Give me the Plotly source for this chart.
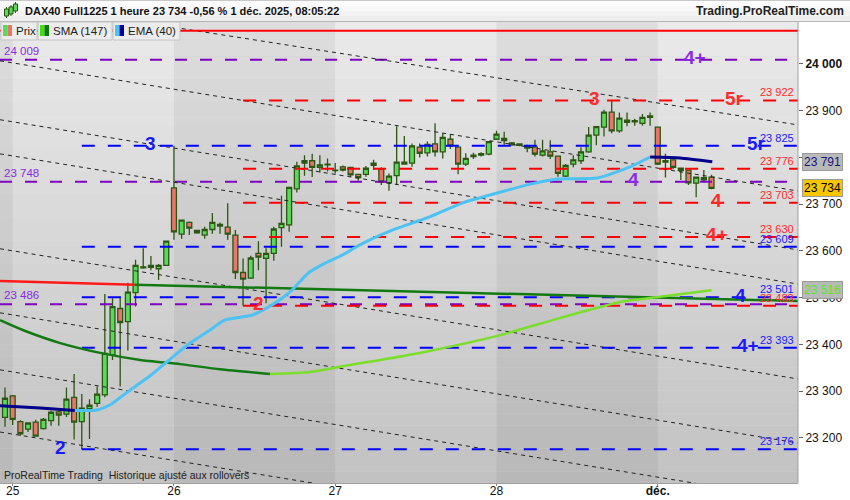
import plotly.graph_objects as go

# ---------------- DATA ----------------
day_ticks = [1, 22, 43, 64, 85]
day_labels = ["25", "26", "27", "28", "<b>déc.</b>"]

opens = [23244, 23290, 23235, 23219, 23234, 23220, 23237, 23256, 23251, 23287,
         23235, 23263, 23274, 23292, 23378, 23477, 23449, 23511, 23564, 23569,
         23562, 23569, 23735, 23636, 23661, 23644, 23634, 23646, 23657, 23651,
         23634, 23554, 23542, 23595, 23584, 23595, 23650, 23656, 23733, 23788,
         23793, 23779, 23784, 23773, 23780, 23779, 23764, 23764, 23783, 23775,
         23746, 23761, 23790, 23788, 23822, 23810, 23829, 23812, 23839, 23822,
         23786, 23802, 23805, 23807, 23839, 23841, 23827, 23826, 23820, 23822,
         23805, 23812, 23803, 23760, 23786, 23793, 23812, 23848, 23865, 23897,
         23857, 23880, 23876, 23873, 23886, 23865, 23790, 23795, 23772, 23773,
         23745, 23757, 23758]
highs = [23308, 23292, 23238, 23232, 23239, 23243, 23258, 23264, 23308, 23337,
         23294, 23283, 23310, 23508, 23499, 23502, 23532, 23581, 23606, 23589,
         23572, 23621, 23825, 23666, 23663, 23645, 23652, 23681, 23661, 23702,
         23645, 23584, 23590, 23621, 23606, 23652, 23718, 23737, 23791, 23805,
         23808, 23805, 23798, 23788, 23783, 23780, 23765, 23782, 23795, 23779,
         23766, 23867, 23846, 23830, 23830, 23834, 23873, 23852, 23850, 23823,
         23809, 23810, 23811, 23835, 23857, 23855, 23833, 23830, 23827, 23838,
         23838, 23837, 23804, 23786, 23805, 23822, 23865, 23866, 23902, 23922,
         23896, 23896, 23883, 23893, 23896, 23866, 23808, 23796, 23777, 23774,
         23758, 23773, 23763]
lows = [23224, 23228, 23205, 23213, 23203, 23218, 23226, 23226, 23245, 23197,
        23176, 23198, 23267, 23287, 23367, 23310, 23387, 23481, 23562, 23559,
        23538, 23568, 23624, 23626, 23634, 23637, 23626, 23637, 23637, 23624,
        23540, 23483, 23540, 23559, 23488, 23579, 23609, 23641, 23725, 23761,
        23758, 23768, 23770, 23766, 23770, 23758, 23750, 23759, 23773, 23741,
        23729, 23741, 23785, 23780, 23800, 23802, 23802, 23798, 23818, 23764,
        23782, 23797, 23802, 23805, 23838, 23827, 23825, 23824, 23811, 23802,
        23802, 23797, 23759, 23758, 23779, 23786, 23810, 23826, 23845, 23852,
        23853, 23867, 23868, 23868, 23868, 23784, 23757, 23775, 23752, 23741,
        23715, 23748, 23732]
closes = [23285, 23240, 23209, 23232, 23204, 23240, 23255, 23249, 23283, 23234,
          23264, 23270, 23294, 23381, 23481, 23447, 23512, 23569, 23566, 23565,
          23569, 23621, 23641, 23666, 23649, 23639, 23646, 23661, 23653, 23636,
          23554, 23540, 23585, 23587, 23595, 23647, 23659, 23736, 23782, 23793,
          23779, 23784, 23786, 23772, 23773, 23763, 23757, 23777, 23788, 23748,
          23760, 23790, 23786, 23825, 23809, 23828, 23812, 23843, 23825, 23786,
          23798, 23805, 23808, 23834, 23850, 23836, 23831, 23829, 23823, 23807,
          23814, 23803, 23766, 23783, 23795, 23812, 23848, 23866, 23897, 23857,
          23884, 23875, 23879, 23886, 23889, 23786, 23793, 23779, 23777, 23746,
          23758, 23752, 23734]

sma_x = [-0.65, 2.3, 7.2, 12.4, 17.6, 22.8, 28.0, 34.5, 39.7, 44.9, 54.0, 64.5, 72.3, 80.1, 85.3, 92]
sma_y = [23452, 23431, 23403, 23382, 23367, 23358, 23347, 23337, 23341, 23356, 23382, 23420, 23457, 23491, 23502, 23516]

ema_x = [-0.65, 4.6, 9.1, 12.0, 13.7, 15.9, 18.9, 21.1, 24.1, 26.7, 28.6, 32.2, 35.2, 37.4, 39.5,
         41.7, 43.9, 46.2, 50.5, 55.3, 59.6, 64.1, 68.4, 71.9, 77.1, 81.4, 84.0, 87.9, 92.1]
ema_y = [23269, 23264, 23259, 23260, 23271, 23298, 23333, 23363, 23403, 23431, 23452, 23463, 23489, 23517, 23553,
         23574, 23591, 23613, 23645, 23673, 23703, 23724, 23743, 23754, 23756, 23780, 23801, 23799, 23791]

# red -> green long-term line
ref_x = [-0.65, 16.9, 103.26]
ref_y = [23536, 23528, 23493]

top_red_level = 24071

purple_levels = [24009, 23748, 23486]
red_levels = [23922, 23776, 23703, 23630, 23483]
blue_levels = [23825, 23609, 23501, 23393, 23176]
red_start = 31
blue_start = 10

# channel lines: price at bar 0 and at bar 100
chan_start = [24135, 24005, 23879, 23806, 23603, 23466, 23344, 23211]
chan_end = [23878, 23737, 23611, 23538, 23335, 23198, 23076, 22943]

# wave labels: text, colour key, bar, price
wave_labels = [
    ("4+", "purple", 89.8, 24009), ("5r", "red", 95.0, 23922), ("5r", "blue", 97.8, 23825),
    ("3", "red", 76.8, 23922), ("3", "blue", 19.0, 23825), ("4", "purple", 81.8, 23748),
    ("4", "red", 92.7, 23703), ("4+", "red", 92.7, 23630), ("4", "blue", 95.8, 23501),
    ("4+", "blue", 96.7, 23393), ("2", "blue", 7.2, 23176), ("2", "red", 33.0, 23483),
]

last_price = 23734
ema_last = 23791
sma_last = 23516

# ---------------- STYLE / LAYOUT ----------------
W, H = 850, 500
PL, PR, PT, PB = 0, 798, 22, 483
XMIN, XMAX = -0.651, 103.26
YMIN, YMAX = 23103.7, 24089.8
FONT = "Liberation Sans, Arial, sans-serif"

COL = {"purple": "#7d00c4", "red": "#ff0000", "blue": "#0000ff"}
TXT = {"purple": "#8a2be2", "red": "#ff2a2a", "blue": "#1a1aff"}


def pxx(x):
    return (x - PL) / (PR - PL)


def pxy(y):
    return (PB - y) / (PB - PT)


fig = go.Figure()

# level lines
for p in purple_levels:
    fig.add_trace(go.Scatter(x=[XMIN, XMAX], y=[p, p], mode="lines",
                             line=dict(color=COL["purple"], width=2, dash="12px,13px"),
                             hoverinfo="skip", showlegend=False))

# channel lines
for a, b in zip(chan_start, chan_end):
    s = (b - a) / 100.0
    fig.add_trace(go.Scatter(x=[XMIN, XMAX], y=[a + s * XMIN, a + s * XMAX], mode="lines",
                             line=dict(color="#222222", width=1, dash="4px,4px"),
                             hoverinfo="skip", showlegend=False))

# candles
fig.add_trace(go.Candlestick(
    x=list(range(len(opens))), open=opens, high=highs, low=lows, close=closes,
    increasing=dict(fillcolor="#5ada5a", line=dict(color="#2b5712", width=1.3)),
    decreasing=dict(fillcolor="#e8766c", line=dict(color="#2b5712", width=1.3)),
    whiskerwidth=0, hoverinfo="skip", showlegend=False))

for p in red_levels:
    fig.add_trace(go.Scatter(x=[red_start, XMAX], y=[p, p], mode="lines",
                             line=dict(color=COL["red"], width=2, dash="13px,13px"),
                             hoverinfo="skip", showlegend=False))
for p in blue_levels:
    fig.add_trace(go.Scatter(x=[blue_start, XMAX], y=[p, p], mode="lines",
                             line=dict(color=COL["blue"], width=2, dash="13px,13px"),
                             hoverinfo="skip", showlegend=False))

fig.add_trace(go.Scatter(x=[XMIN, XMAX], y=[top_red_level, top_red_level], mode="lines",
                         line=dict(color="#ff0000", width=2), hoverinfo="skip", showlegend=False))

# red/green reference line
fig.add_trace(go.Scatter(x=ref_x[:2], y=ref_y[:2], mode="lines",
                         line=dict(color="#ff1a1a", width=2.5), hoverinfo="skip", showlegend=False))
fig.add_trace(go.Scatter(x=ref_x[1:], y=ref_y[1:], mode="lines",
                         line=dict(color="#137a13", width=2.5), hoverinfo="skip", showlegend=False))


def add_two_tone(xs, ys, up_col, down_col, width):
    i = 0
    n = len(xs)
    while i < n - 1:
        up = ys[i + 1] >= ys[i]
        j = i + 1
        while j < n - 1 and (ys[j + 1] >= ys[j]) == up:
            j += 1
        fig.add_trace(go.Scatter(x=xs[i:j + 1], y=ys[i:j + 1], mode="lines",
                                 line=dict(color=up_col if up else down_col, width=width, shape="spline", smoothing=0.6),
                                 hoverinfo="skip", showlegend=False))
        i = j


add_two_tone(sma_x, sma_y, "#7ade2a", "#137a13", 2.5)
add_two_tone(ema_x, ema_y, "#4cc2f5", "#000088", 3)

# ---------------- shapes ----------------
shapes = []
N = 40
for k in range(N):
    t = (k + 0.5) / N
    g = int(round(194 + (234 - 194) * t))
    shapes.append(dict(type="rect", xref="paper", yref="paper", x0=0, x1=1, y0=k / N, y1=(k + 1) / N,
                       fillcolor=f"rgb({g},{g},{g})", line=dict(width=0), layer="below"))
for a, b in [(XMIN, day_ticks[0]), (day_ticks[1], day_ticks[2]), (day_ticks[3], day_ticks[4])]:
    shapes.append(dict(type="rect", xref="x", yref="paper", x0=a, x1=b, y0=0, y1=1,
                       fillcolor="rgba(0,0,0,0.05)", line=dict(width=0), layer="below"))

# header bar
for k in range(4):
    g = [252, 248, 243, 237][k]
    shapes.append(dict(type="rect", xref="paper", yref="paper", x0=0, x1=pxx(W),
                       y0=pxy(5.25 * (k + 1)), y1=pxy(5.25 * k),
                       fillcolor=f"rgb({g},{g},{g})", line=dict(width=0)))
shapes.append(dict(type="line", xref="paper", yref="paper", x0=0, x1=pxx(W), y0=pxy(21.5), y1=pxy(21.5),
                   line=dict(color="#b5b5b5", width=1)))
shapes.append(dict(type="line", xref="paper", yref="paper", x0=0, x1=pxx(W), y0=pxy(0.5), y1=pxy(0.5),
                   line=dict(color="#c8c8c8", width=1)))
# header candle icon
for cx, y0, y1, w0, w1 in [(6.5, 9, 16, 7, 18), (11, 7, 14, 5, 16), (15.5, 4, 11, 2, 13)]:
    shapes.append(dict(type="line", xref="paper", yref="paper", x0=pxx(cx), x1=pxx(cx), y0=pxy(w0), y1=pxy(w1),
                       line=dict(color="#2b5712", width=1)))
    shapes.append(dict(type="rect", xref="paper", yref="paper", x0=pxx(cx - 2), x1=pxx(cx + 2), y0=pxy(y1), y1=pxy(y0),
                       fillcolor="#5ada5a", line=dict(color="#2b5712", width=1)))

# legend boxes
legend_items = [("Prix", 1, 37, "#5ada5a", "#e8766c"),
                ("SMA (147)", 38, 112, "#3fe010", "#0b7a0b"),
                ("EMA (40)", 113, 180, "#4cc2f5", "#000099")]
annotations = []
for label, x0, x1, c1, c2 in legend_items:
    shapes.append(dict(type="rect", xref="paper", yref="paper", x0=pxx(x0), x1=pxx(x1), y0=pxy(40), y1=pxy(22),
                       fillcolor="#ececec", line=dict(color="#c4c4c4", width=1)))
    shapes.append(dict(type="rect", xref="paper", yref="paper", x0=pxx(x0 + 2), x1=pxx(x0 + 6.5), y0=pxy(36), y1=pxy(25),
                       fillcolor=c1, line=dict(width=0)))
    shapes.append(dict(type="rect", xref="paper", yref="paper", x0=pxx(x0 + 6.5), x1=pxx(x0 + 11), y0=pxy(36), y1=pxy(25),
                       fillcolor=c2, line=dict(width=0)))
    annotations.append(dict(xref="paper", yref="paper", x=pxx(x0 + 13), y=pxy(31), text=label, showarrow=False,
                            xanchor="left", yanchor="middle", font=dict(family=FONT, size=11.5, color="#222")))

# right-axis separator
shapes.append(dict(type="line", xref="paper", yref="paper", x0=1, x1=1, y0=0, y1=1,
                   line=dict(color="#a0a0a0", width=1)))

# header texts
annotations.append(dict(xref="paper", yref="paper", x=pxx(23), y=pxy(11),
                        text="<b>DAX40 Full1225 1 heure 23 734 -0,56 % 1 déc. 2025, 08:05:22</b>",
                        showarrow=False, xanchor="left", yanchor="middle",
                        font=dict(family=FONT, size=11, color="#111")))
annotations.append(dict(xref="paper", yref="paper", x=pxx(846), y=pxy(11), text="<b>Trading.ProRealTime.com</b>",
                        showarrow=False, xanchor="right", yanchor="middle",
                        font=dict(family=FONT, size=12, color="#222")))
annotations.append(dict(xref="paper", yref="paper", x=pxx(2), y=pxy(475),
                        text="ProRealTime Trading  Historique ajusté aux rollovers",
                        showarrow=False, xanchor="left", yanchor="middle",
                        font=dict(family=FONT, size=10.5, color="#222")))


def fmt(v):
    s = f"{int(v):,}".replace(",", " ")
    return s


# level value labels
for p in purple_levels:
    annotations.append(dict(xref="paper", yref="y", x=pxx(2), y=p, text=fmt(p), showarrow=False,
                            xanchor="left", yanchor="middle", yshift=9,
                            font=dict(family=FONT, size=11.5, color=TXT["purple"])))
for key, levels in [("red", red_levels), ("blue", blue_levels)]:
    for p in levels:
        annotations.append(dict(xref="paper", yref="y", x=pxx(796), y=p, text=fmt(p), showarrow=False,
                                xanchor="right", yanchor="middle", yshift=8,
                                font=dict(family=FONT, size=11, color=TXT[key])))

# wave labels
for text, key, bx, p in wave_labels:
    annotations.append(dict(xref="x", yref="y", x=bx, y=p, text=f"<b>{text}</b>", showarrow=False,
                            xanchor="center", yanchor="middle", yshift=2,
                            font=dict(family=FONT, size=19, color=TXT[key])))

# axis value boxes
for val, bg, fg in [(ema_last, "#b9b9b9", "#14147a"), (last_price, "#f7c600", "#000000"),
                    (sma_last, "#b9b9b9", "#5fe61a")]:
    annotations.append(dict(xref="paper", yref="y", x=pxx(802), y=val, text=fmt(val), showarrow=False,
                            xanchor="left", yanchor="middle", bgcolor=bg, bordercolor="#9a9a9a", borderwidth=1,
                            borderpad=1, width=37, align="center",
                            font=dict(family=FONT, size=12, color=fg)))

ytick_vals = list(range(23200, 24001, 100))
ytick_text = [f"<b>{fmt(v)}</b>" if v % 1000 == 0 else fmt(v) for v in ytick_vals]

fig.update_layout(
    width=W, height=H,
    margin=dict(l=PL, r=W - PR, t=PT, b=H - PB, pad=0),
    paper_bgcolor="white", plot_bgcolor="#d8d8d8",
    shapes=shapes, annotations=annotations,
    showlegend=False, boxgap=0.2, boxgroupgap=0.2,
    xaxis=dict(range=[XMIN, XMAX], tickvals=day_ticks, ticktext=day_labels, showgrid=False, zeroline=False,
               rangeslider=dict(visible=False), ticks="outside", ticklen=2, tickcolor="#888",
               ticklabelstandoff=-5,
               showline=True, linecolor="#a0a0a0", linewidth=1, automargin=False,
               tickfont=dict(family=FONT, size=12, color="#111")),
    yaxis=dict(range=[YMIN, YMAX], side="right", tickvals=ytick_vals, ticktext=ytick_text, showgrid=False,
               zeroline=False, ticks="outside", ticklen=4, tickcolor="#666", showline=False, automargin=False,
               tickfont=dict(family=FONT, size=12, color="#111")),
)

fig.write_html("out.html", config={"displayModeBar": False},
               post_script="document.body.style.margin='0';document.body.style.overflow='hidden';")
